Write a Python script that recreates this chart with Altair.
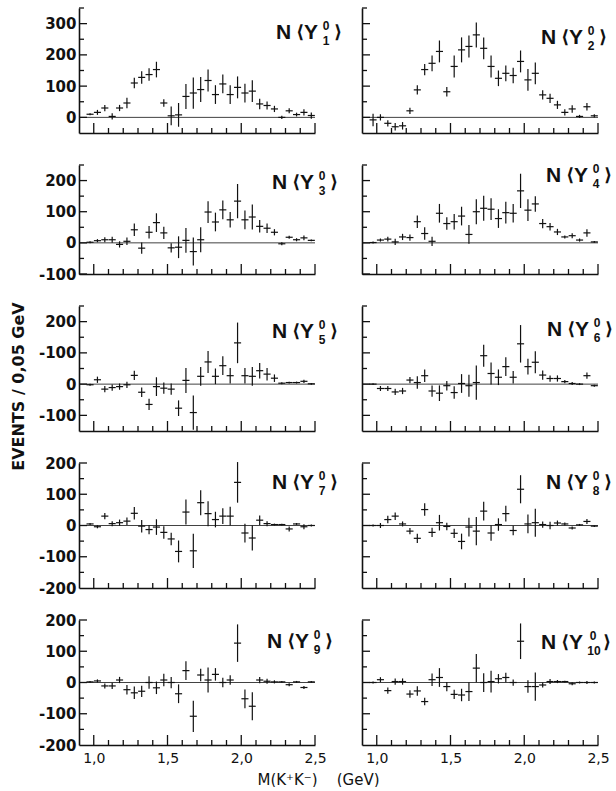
import altair as alt
import pandas as pd

INK = "#111111"

# bin centres, GeV
mass = [0.975, 1.025, 1.075, 1.125, 1.175, 1.225, 1.275, 1.325, 1.375, 1.425,
        1.475, 1.525, 1.575, 1.625, 1.675, 1.725, 1.775, 1.825, 1.875, 1.925,
        1.975, 2.025, 2.075, 2.125, 2.175, 2.225, 2.275, 2.325, 2.375, 2.425, 2.475]

y1 = [10, 16, 30, 3, 30, 46, 110, 128, 137, 153, 46, 5, 8, 67, 78, 89, 118, 73, 107, 73, 96, 78, 84, 43, 38, 27, 0, 21, 9, 16, 6]
e1 = [3, 8, 10, 10, 10, 17, 17, 20, 20, 25, 12, 30, 38, 40, 50, 40, 35, 30, 30, 30, 35, 30, 35, 17, 13, 10, 5, 8, 6, 10, 10]
y2 = [-8, 0, -19, -30, -27, 21, 88, 153, 173, 211, 82, 163, 216, 227, 264, 221, 163, 125, 141, 134, 179, 120, 141, 72, 61, 40, 16, 27, 3, 34, 5]
e2 = [20, 10, 10, 12, 12, 10, 15, 18, 25, 35, 15, 35, 40, 35, 40, 35, 35, 25, 25, 25, 35, 35, 35, 15, 15, 13, 10, 12, 5, 12, 5]
y3 = [2, 7, 10, 10, -5, 5, 42, -17, 34, 65, 32, -16, -14, 8, -28, 10, 99, 67, 106, 74, 134, 74, 83, 53, 47, 34, -3, 18, 10, 16, 8]
e3 = [3, 5, 8, 10, 10, 12, 20, 18, 20, 30, 20, 15, 35, 40, 45, 40, 35, 30, 30, 25, 55, 30, 40, 20, 15, 10, 5, 5, 5, 8, 3]
y4 = [1, 9, 12, 3, 19, 17, 68, 30, 5, 95, 62, 68, 86, 27, 100, 111, 108, 78, 97, 95, 167, 105, 125, 62, 52, 35, 19, 23, 9, 32, 3]
e4 = [3, 5, 8, 10, 10, 10, 20, 20, 15, 30, 20, 25, 30, 30, 40, 40, 35, 30, 35, 30, 55, 35, 25, 15, 12, 10, 5, 8, 5, 12, 3]
y5 = [-2, 14, -16, -11, -8, -2, 28, -26, -65, -8, -13, -16, -77, 12, -91, 25, 71, 25, 59, 27, 132, 27, 25, 43, 32, 19, 3, 5, 5, 9, 1]
e5 = [3, 10, 10, 10, 10, 10, 15, 15, 18, 30, 18, 18, 25, 40, 55, 30, 35, 25, 30, 25, 65, 25, 30, 25, 20, 12, 3, 3, 3, 5, 3]
y6 = [0, -14, -14, -25, -22, 13, 5, 27, -22, -29, -5, -27, 2, -5, 5, 91, 34, 22, 56, 22, 129, 56, 70, 29, 18, 18, 8, 2, 0, 27, -5]
e6 = [3, 8, 8, 10, 10, 10, 20, 20, 18, 25, 15, 20, 30, 35, 55, 35, 35, 25, 30, 20, 60, 25, 35, 15, 10, 10, 5, 5, 3, 10, 3]
y7 = [5, -4, 30, 6, 9, 14, 39, -2, -13, -5, -22, -43, -83, 43, -81, 73, 38, 19, 30, 30, 138, -24, -40, 17, 6, 3, 3, -11, 5, -4, 0]
e7 = [3, 5, 10, 8, 10, 12, 20, 20, 15, 25, 20, 20, 35, 40, 55, 40, 40, 25, 25, 30, 65, 30, 40, 15, 8, 3, 3, 8, 3, 8, 3]
y8 = [0, 0, 19, 30, 5, -18, -41, 51, -22, 9, -3, -25, -51, -5, -18, 46, -24, 3, 38, -16, 116, 5, 9, 3, 0, 8, 5, -8, 2, 13, -2]
e8 = [3, 8, 12, 12, 8, 10, 15, 20, 15, 25, 12, 15, 25, 30, 45, 30, 25, 20, 25, 15, 45, 30, 45, 10, 12, 8, 5, 5, 3, 8, 3]
y9 = [2, 5, -11, -11, 8, -23, -33, -28, 0, -17, 8, 0, -36, 38, -108, 24, 8, 26, 0, 8, 126, -52, -76, 8, 4, 2, 2, -7, 2, -16, 2]
e9 = [3, 5, 8, 10, 10, 15, 20, 18, 20, 20, 20, 18, 30, 30, 50, 20, 40, 20, 15, 15, 60, 30, 45, 10, 8, 5, 3, 5, 3, 5, 3]
y10 = [0, 9, -26, 3, 3, -37, -27, -61, 9, 16, -13, -38, -40, -29, 46, 0, 3, 12, 16, 0, 132, -13, -13, -8, 3, 3, 3, -4, 0, 0, 0]
e10 = [3, 8, 10, 10, 10, 12, 15, 12, 20, 30, 15, 15, 20, 30, 45, 30, 35, 15, 15, 10, 57, 20, 45, 8, 8, 5, 3, 5, 3, 5, 3]

series_values = [y1, y2, y3, y4, y5, y6, y7, y8, y9, y10]
series_errors = [e1, e2, e3, e4, e5, e6, e7, e8, e9, e10]
subscripts = ["1", "2", "3", "4", "5", "6", "7", "8", "9", "10"]

x_domain = [0.9, 2.5]
x_label_values = [1.0, 1.5, 2.0, 2.5]
x_ticks_major = [1.0, 1.5, 2.0, 2.5]
x_ticks_minor = [1.1, 1.2, 1.3, 1.4, 1.6, 1.7, 1.8, 1.9, 2.1, 2.2, 2.3, 2.4]

row_domains = [[-50, 350], [-100, 250], [-150, 250], [-200, 200], [-200, 200]]
row_label_values = [[0, 100, 200, 300], [-100, 0, 100, 200], [-100, 0, 100, 200],
                    [-200, -100, 0, 100, 200], [-200, -100, 0, 100, 200]]
row_ticks_major = [[0, 100, 200, 300], [-100, 0, 100, 200], [-100, 0, 100, 200],
                   [-100, 0, 100, 200], [-100, 0, 100, 200]]
row_ticks_minor = [[50, 150, 250, 350], [-50, 50, 150, 250], [-50, 50, 150, 250],
                   [-150, -50, 50, 150], [-150, -50, 50, 150]]
row_heights = [125, 109, 125, 125, 125]

PANEL_W = 236
HALF_BIN = 0.024

# label anchor (left of "N", baseline) inside each panel, in pixels
label_anchor = [(197, 31), (179, 36), (193, 24), (184, 17), (193, 32),
                (185, 30), (193, 26), (184, 26), (188, 28), (179, 29)]

LABEL_FONT = "Liberation Sans, DejaVu Sans"
AXIS_FONT = "DejaVu Sans"
NB = "\u00a0"


def label_layers(bx, by, sub):
    one = alt.Chart(pd.DataFrame({"k": [0]}))
    big = dict(fontSize=21, fontWeight="bold", font=LABEL_FONT, color=INK,
               align="left", baseline="alphabetic")
    bracket = dict(big, font="DejaVu Sans", fontSize=18)
    small = dict(fontSize=12, fontWeight="bold", font=LABEL_FONT, color=INK,
                 align="center", baseline="alphabetic")
    wide = len(sub) > 1
    return [
        one.mark_text(text="N", **big).encode(x=alt.value(bx), y=alt.value(by)),
        one.mark_text(text="⟨", **bracket).encode(x=alt.value(bx + 20), y=alt.value(by - 1)),
        one.mark_text(text="Y", **big).encode(x=alt.value(bx + 28), y=alt.value(by)),
        one.mark_text(text="0", **small).encode(x=alt.value(bx + (52 if wide else 50)), y=alt.value(by - 9)),
        one.mark_text(text=sub, **small).encode(x=alt.value(bx + (53 if wide else 50)), y=alt.value(by + 6)),
        one.mark_text(text="⟩", **bracket).encode(
            x=alt.value(bx + (62 if wide else 58)), y=alt.value(by - 1)),
    ]


def make_panel(i):
    row, col = divmod(i, 2)
    H = row_heights[row]
    xs = alt.Scale(domain=x_domain, nice=False, zero=False)
    ys = alt.Scale(domain=row_domains[row], nice=False, zero=False)

    common = dict(grid=False, ticks=False, tickSize=0, domain=True,
                  domainColor=INK, domainWidth=1.6)
    if row == 4:
        xkw = dict(values=x_label_values, labels=True,
                   labelExpr="replace(format(datum.value, '.1f'), '.', ',')",
                   labelFont=AXIS_FONT, labelFontSize=14, labelColor=INK,
                   labelPadding=6, labelFlush=False)
        if col == 0:
            xaxis = alt.Axis(title="M(K⁺K⁻)" + NB * 4 + "(GeV)", titleX=239, titleY=39,
                             titleAlign="center", titleBaseline="alphabetic",
                             titleFont=AXIS_FONT, titleFontSize=15,
                             titleFontWeight="normal", titleColor=INK,
                             **xkw, **common)
        else:
            xaxis = alt.Axis(title=None, **xkw, **common)
    else:
        xaxis = alt.Axis(title=None, labels=False, **common)

    if col == 0:
        ykw = dict(values=row_label_values[row], labels=True,
                   labelExpr=("datum.value == 100 ? '-100' : '' + datum.value") if row == 2 else "'' + datum.value",
                   labelFont=AXIS_FONT, labelFontSize=15, labelFontWeight="bold",
                   labelColor=INK, labelPadding=3, labelFlush=False)
        if row == 2:
            yaxis = alt.Axis(title="EVENTS / 0,05 GeV", titleX=-56, titleY=80,
                             titleAngle=270, titleAlign="center",
                             titleBaseline="alphabetic", titleFont=AXIS_FONT,
                             titleFontSize=16, titleFontWeight="bold",
                             titleColor=INK, **ykw, **common)
        else:
            yaxis = alt.Axis(title=None, **ykw, **common)
    else:
        yaxis = alt.Axis(title=None, labels=False, **common)

    df = pd.DataFrame({"m": mass, "n": series_values[i], "e": series_errors[i]})
    df["lo"] = df["n"] - df["e"]
    df["hi"] = df["n"] + df["e"]
    df["ml"] = df["m"] - HALF_BIN
    df["mh"] = df["m"] + HALF_BIN
    base = alt.Chart(df)

    bars = base.mark_rule(color=INK, strokeWidth=1.2).encode(
        x=alt.X("m:Q", scale=xs, axis=xaxis),
        y=alt.Y("lo:Q", scale=ys, axis=yaxis),
        y2="hi:Q",
    )
    arms = base.mark_rule(color=INK, strokeWidth=1.2).encode(
        x=alt.X("ml:Q", scale=xs, axis=xaxis),
        x2="mh:Q",
        y=alt.Y("n:Q", scale=ys, axis=yaxis),
    )
    zero = alt.Chart(pd.DataFrame({"k": [0]})).mark_rule(color=INK, strokeWidth=0.8).encode(
        y=alt.datum(0, scale=ys, axis=yaxis),
    )
    yt_major = alt.Chart(pd.DataFrame({"t": row_ticks_major[row]})).mark_rule(
        color=INK, strokeWidth=1.3).encode(
        y=alt.Y("t:Q", scale=ys, axis=yaxis), x=alt.value(0), x2=alt.value(8))
    yt_minor = alt.Chart(pd.DataFrame({"t": row_ticks_minor[row]})).mark_rule(
        color=INK, strokeWidth=1.3).encode(
        y=alt.Y("t:Q", scale=ys, axis=yaxis), x=alt.value(0), x2=alt.value(5))
    xt_major = alt.Chart(pd.DataFrame({"t": x_ticks_major})).mark_rule(
        color=INK, strokeWidth=1.3).encode(
        x=alt.X("t:Q", scale=xs, axis=xaxis), y=alt.value(H), y2=alt.value(H - 10))
    xt_minor = alt.Chart(pd.DataFrame({"t": x_ticks_minor})).mark_rule(
        color=INK, strokeWidth=1.3).encode(
        x=alt.X("t:Q", scale=xs, axis=xaxis), y=alt.value(H), y2=alt.value(H - 5))

    bx, by = label_anchor[i]
    layers = [bars, arms, zero, yt_major, yt_minor, xt_major, xt_minor] + label_layers(bx, by, subscripts[i])
    return alt.layer(*layers).properties(width=PANEL_W, height=H)


panels = [make_panel(i) for i in range(10)]

chart = alt.concat(
    *panels, columns=2, spacing={"row": 32, "column": 47}, bounds="flush", align="each"
).properties(
    padding={"left": 10, "top": 7, "right": 0, "bottom": 0},
    background="white",
).configure_view(stroke=None)

chart.save("out.html", embed_options={"renderer": "svg", "actions": False})
